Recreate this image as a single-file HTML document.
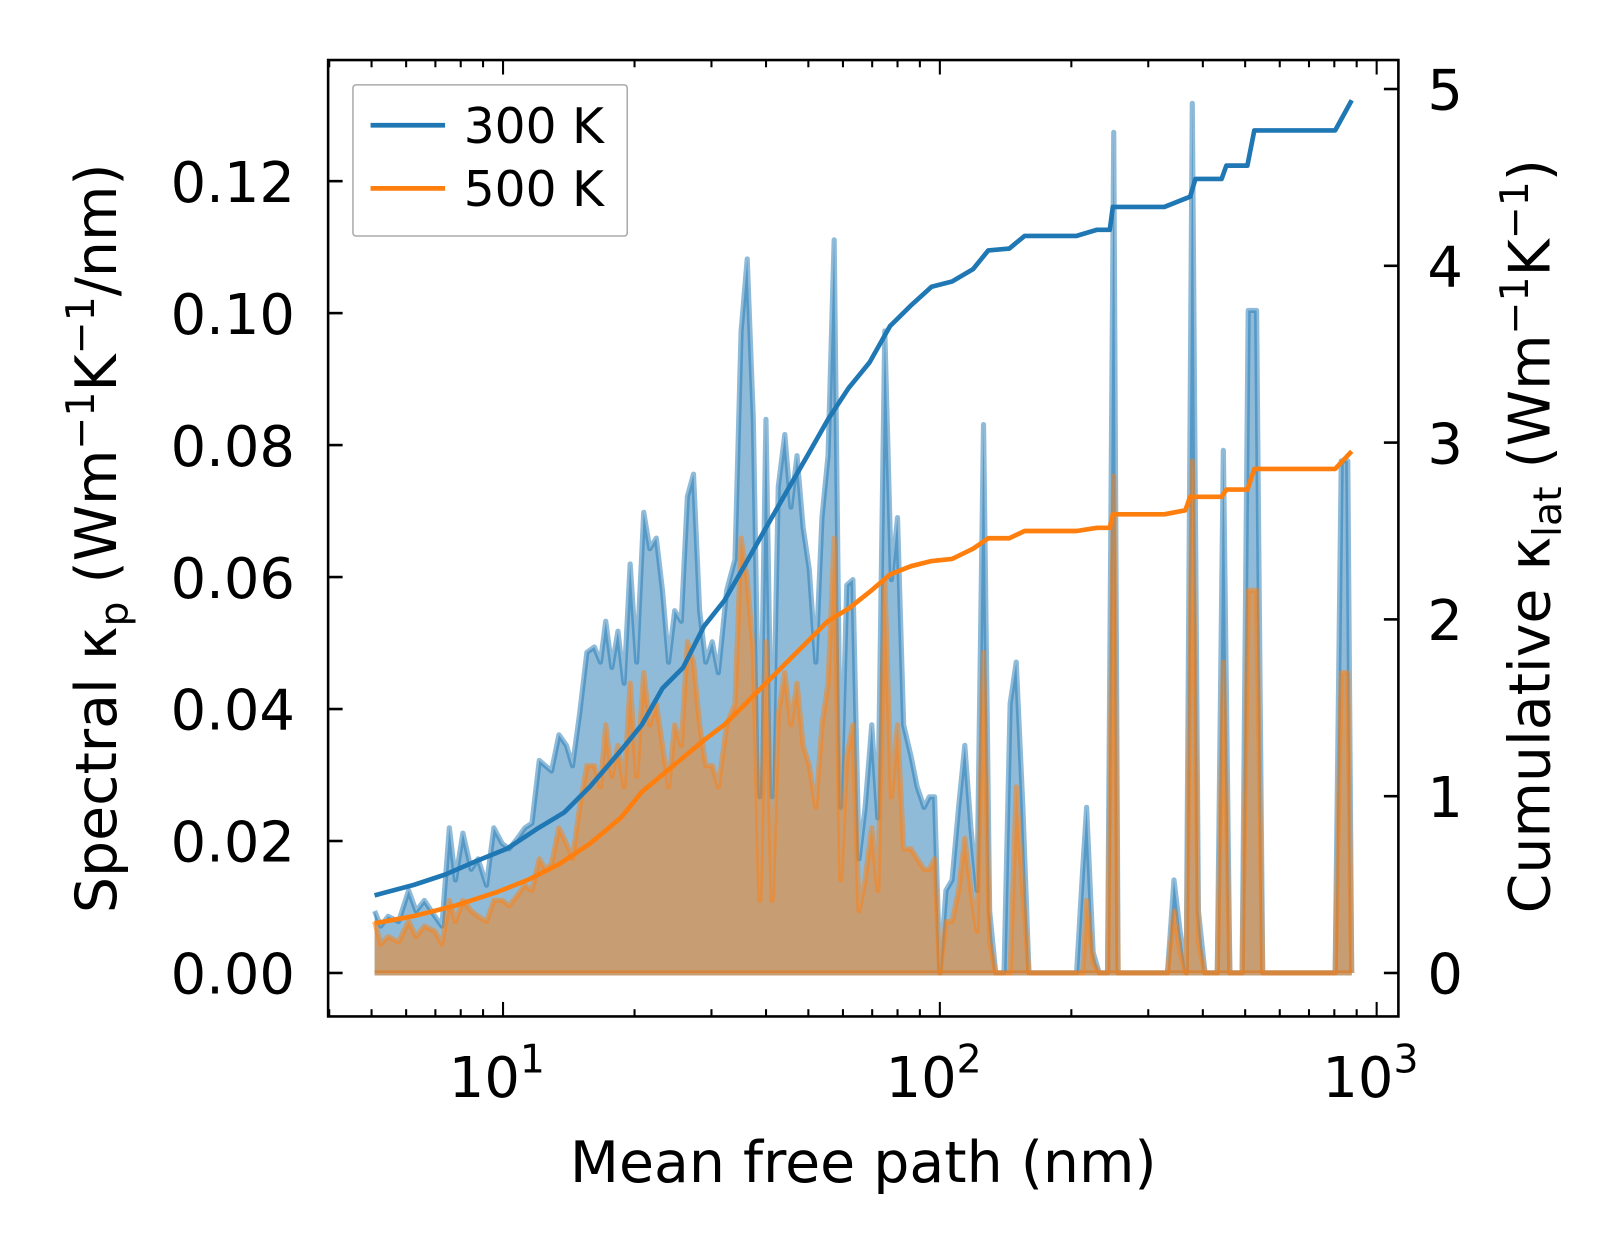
<!DOCTYPE html>
<html><head><meta charset="utf-8"><style>
html,body{margin:0;padding:0;background:#fff;width:1623px;height:1254px;overflow:hidden;}
svg{display:block;}
svg text{font-family:"DejaVu Sans","Liberation Sans",sans-serif;fill:#000;}
</style></head><body>
<svg id="chart" width="1623" height="1254" viewBox="0 0 1568 1211.5" xmlns="http://www.w3.org/2000/svg" style="position:absolute;left:0;top:0">
<rect width="1568" height="1212" fill="#fff"/>
<g id="marks"></g>
<g id="axes"></g>
</svg>
<script>
// log10 of mean free path (nm) for spectral series
const logMfp = [
.706,.720,.737,.761,.784,.801,.820,.844,.860,.877,
.891,.908,.927,.943,.962,.979,.998,1.014,1.033,1.050,
1.066,1.083,1.097,1.111,1.128,1.145,1.159,1.175,1.192,1.209,
1.223,1.235,1.249,1.263,1.277,1.291,1.306,1.322,1.336,1.351,
1.365,1.379,1.393,1.408,1.422,1.436,1.450,1.464,1.479,1.493,
1.512,1.531,1.545,1.559,1.573,1.588,1.602,1.616,1.630,1.645,
1.659,1.673,1.687,1.701,1.716,1.730,1.744,1.758,1.773,1.787,
1.801,1.815,1.829,1.844,1.858,1.874,1.889,1.903,1.917,1.934,
1.948,1.964,1.976,1.988,2.000,2.014,2.028,2.043,2.057,2.071,
2.085,2.100,2.114,2.128,2.147,2.161,2.175,2.190,2.204,2.313,
2.327,2.336,2.351,2.365,2.384,2.398,2.408,2.521,2.536,2.550,
2.564,2.578,2.592,2.607,2.635,2.649,2.664,2.692,2.706,2.725,
2.739,2.905,2.919,2.934,2.943];
// spectral kappa (x 1e-3 W/m/K/nm)
const spec300 = [
9.4,7.1,8.6,7.8,12.5,9.4,11.0,8.6,7.1,22.0,
14.1,21.2,15.7,17.3,13.3,22.0,19.6,18.8,20.4,22.0,
22.7,32.2,31.4,30.6,36.1,34.5,31.4,39.2,48.6,49.4,
47.1,53.3,46.3,51.8,43.9,62.0,47.1,69.8,64.3,65.9,
58.0,47.1,54.9,53.3,72.2,75.6,54.9,47.1,50.2,45.5,
58.0,62.7,97.3,108.2,83.9,26.7,83.9,26.7,73.7,81.6,
70.6,78.4,67.5,61.2,47.1,69.0,78.4,111.1,25.1,58.8,
59.6,17.3,25.1,37.6,23.5,97.3,59.6,69.0,37.6,32.9,
28.2,25.1,26.7,26.7,0,12.5,14.1,25.1,34.5,22.0,
12.5,83.1,9.4,0,0,40.8,47.1,25.1,0,0,
15.7,25.1,3.1,0,0,127.4,0,0,14.1,6.3,
0,131.8,9.4,0,0,79.2,0,0,100.4,100.4,
0,0,77.6,77.6,0];
const spec500 = [
7.8,4.4,5.5,4.7,7.8,5.5,7.1,6.3,4.4,11.0,
7.8,11.0,9.4,8.6,7.8,11.0,11.0,10.2,11.8,13.3,
12.5,17.3,15.7,16.5,22.0,19.6,17.3,25.1,31.4,31.4,
28.2,37.6,29.8,34.5,28.2,43.9,29.8,45.5,37.6,40.8,
34.5,28.2,37.6,34.5,50.2,47.1,37.6,31.4,31.4,28.2,
37.6,40.8,65.9,59.6,48.6,11.0,50.2,11.0,39.2,45.5,
37.6,43.9,34.5,31.4,25.1,37.6,43.9,65.9,14.1,32.9,
37.6,9.4,14.1,22.0,12.5,59.6,26.7,37.6,18.8,18.8,
17.3,15.7,15.7,17.3,0,7.8,7.8,12.5,20.4,12.5,
6.3,48.6,4.7,0,0,0,28.2,12.5,0,0,
0,11.0,1.6,0,0,75.3,0,0,9.4,3.1,
0,77.6,4.7,0,0,47.1,0,0,58.0,58.0,
0,0,45.5,45.5,0];
// cumulative kappa (W/m/K)
const cumLog300 = [.706,.796,.867,.938,1.009,1.081,1.140,1.199,1.270,1.318,1.365,1.412,1.460,1.507,1.555,1.602,1.649,1.697,1.744,1.791,1.839,1.886,1.934,1.981,2.028,2.076,2.111,2.159,2.194,2.313,2.360,2.389,2.396,2.514,2.573,2.585,2.645,2.656,2.704,2.720,2.905,2.943];
const cum300 = [0.439,0.498,0.556,0.632,0.703,0.820,0.908,1.054,1.259,1.405,1.610,1.727,1.961,2.108,2.313,2.518,2.722,2.927,3.132,3.308,3.454,3.659,3.776,3.882,3.911,3.981,4.087,4.098,4.169,4.169,4.204,4.204,4.333,4.333,4.391,4.491,4.491,4.567,4.567,4.766,4.766,4.936];
const cumLog500 = [.706,.796,.891,.986,1.057,1.128,1.199,1.270,1.318,1.389,1.460,1.507,1.555,1.602,1.649,1.697,1.744,1.791,1.839,1.886,1.934,1.981,2.028,2.076,2.111,2.159,2.194,2.313,2.360,2.389,2.396,2.514,2.562,2.573,2.645,2.656,2.704,2.720,2.905,2.943];
const cum500 = [0.281,0.322,0.381,0.457,0.527,0.615,0.732,0.878,1.025,1.171,1.317,1.405,1.522,1.639,1.756,1.874,1.991,2.061,2.155,2.254,2.301,2.330,2.342,2.400,2.459,2.459,2.500,2.500,2.518,2.518,2.594,2.594,2.617,2.693,2.693,2.734,2.734,2.851,2.851,2.951];
const leftTicks = [0,0.02,0.04,0.06,0.08,0.10,0.12];
const leftTickLabels = ["0.00","0.02","0.04","0.06","0.08","0.10","0.12"];
const rightTicks = [0,1,2,3,4,5];
const xDecades = [1,2,3];

const L=317,R=1351,T=58,B=982;
const NS="http://www.w3.org/2000/svg";
const xs = lg => 486 + (lg-1)*422;
const yl = v => 940 - v*6375;
const yr = v => 940 - v*170.8;
const marks=document.getElementById('marks'), axes=document.getElementById('axes');
function mk(tag, attrs, parent){const e=document.createElementNS(NS,tag);for(const k in attrs)e.setAttribute(k,attrs[k]);parent.appendChild(e);return e;}

function spectral(vals, color, name){
  let pts = logMfp.map((l,i)=>xs(l).toFixed(1)+','+yl(vals[i]/1000).toFixed(1));
  const fillD='M'+xs(logMfp[0])+','+yl(0)+' L'+pts.join(' L')+' L'+xs(logMfp[logMfp.length-1])+','+yl(0)+'Z';
  const f=mk('path',{d:fillD,fill:color,'fill-opacity':0.5,stroke:'none'},marks);
  
  
  const ln=mk('path',{d:'M'+pts.join(' L'),fill:'none',stroke:color,'stroke-opacity':0.5,'stroke-width':5,'stroke-linejoin':'round'},marks);
  
  
  const base=mk('line',{x1:xs(logMfp[0]),x2:xs(logMfp[logMfp.length-1]),y1:yl(0),y2:yl(0),stroke:color,'stroke-opacity':0.5,'stroke-width':5},marks);
  
  
}
spectral(spec300,'#1f77b4','spectral-300k');
spectral(spec500,'#ff7f0e','spectral-500k');
function cumul(lgs, vals, color, name){
  const d='M'+lgs.map((l,i)=>xs(l).toFixed(1)+','+yr(vals[i]).toFixed(1)).join(' L');
  const p=mk('path',{d:d,fill:'none',stroke:color,'stroke-width':4.5,'stroke-linejoin':'round'},marks);
  
  
}
cumul(cumLog300,cum300,'#1f77b4','cumulative-300k');
cumul(cumLog500,cum500,'#ff7f0e','cumulative-500k');

const fr=mk('rect',{x:L,y:T,width:R-L,height:B-T,fill:'none',stroke:'#000','stroke-width':2.5},axes);


leftTicks.forEach((v,i)=>{
  const y=yl(v);
  mk('line',{x1:L,x2:L+14,y1:y,y2:y,stroke:'#000','stroke-width':2.5},axes);
  const t=mk('text',{x:285,y:y+20,'font-size':54,'text-anchor':'end'},axes);
  t.textContent=leftTickLabels[i];
  
  
});
rightTicks.forEach(v=>{
  const y=yr(v);
  mk('line',{x1:R-14,x2:R,y1:y,y2:y,stroke:'#000','stroke-width':2.5},axes);
  const t=mk('text',{x:R+28,y:y+20,'font-size':54,'text-anchor':'start'},axes);
  t.textContent=String(v);
  
  
});
for(let d=0; d<=3; d++){
  for(let m=1;m<10;m++){
    const lg=d+Math.log10(m), x=xs(lg);
    if(x<L||x>R) continue;
    const len = m===1?14:7;
    mk('line',{x1:x,x2:x,y1:B,y2:B-len,stroke:'#000','stroke-width':2},axes);
    mk('line',{x1:x,x2:x,y1:T,y2:T+len,stroke:'#000','stroke-width':2},axes);
  }
}
xDecades.forEach(d=>{
  const x=xs(d);
  const t=mk('text',{x:x-6,y:1060,'font-size':54,'text-anchor':'middle'},axes);
  
  
  t.textContent='10';
  const s=mk('tspan',{'font-size':38,dy:-24},t); s.textContent=String(d);
});
</script>
<svg style="position:absolute;left:0;top:0" width="1623" height="1254" viewBox="0 0 1568 1211.5">
<text x="834" y="1142" font-size="55" text-anchor="middle" font-family="DejaVu Sans, Liberation Sans, sans-serif">Mean free path (nm)</text>
<text transform="translate(112,520) rotate(-90)" font-size="55" text-anchor="middle" font-family="DejaVu Sans, Liberation Sans, sans-serif">Spectral κ<tspan font-size="38" dy="11">p</tspan><tspan dy="-11"> (Wm</tspan><tspan font-size="38" dy="-21">−1</tspan><tspan dy="21">K</tspan><tspan font-size="38" dy="-21">−1</tspan><tspan dy="21">/nm)</tspan></text>
<text transform="translate(1497,518) rotate(-90)" font-size="55" text-anchor="middle" font-family="DejaVu Sans, Liberation Sans, sans-serif">Cumulative κ<tspan font-size="38" dy="11">lat</tspan><tspan dy="-11"> (Wm</tspan><tspan font-size="38" dy="-21">−1</tspan><tspan dy="21">K</tspan><tspan font-size="38" dy="-21">−1</tspan><tspan dy="21">)</tspan></text>
<g>
<rect x="341" y="82" width="265" height="146" fill="#fff" fill-opacity="0.8" stroke="#aaa" stroke-width="1.5" rx="3"/>
<line x1="358" x2="430" y1="121" y2="121" stroke="#1f77b4" stroke-width="4.5"/>
<text x="448" y="138" font-size="47" font-family="DejaVu Sans, Liberation Sans, sans-serif">300 K</text>
<line x1="358" x2="430" y1="182" y2="182" stroke="#ff7f0e" stroke-width="4.5"/>
<text x="448" y="199" font-size="47" font-family="DejaVu Sans, Liberation Sans, sans-serif">500 K</text>
</g>
</svg>
</body></html>
